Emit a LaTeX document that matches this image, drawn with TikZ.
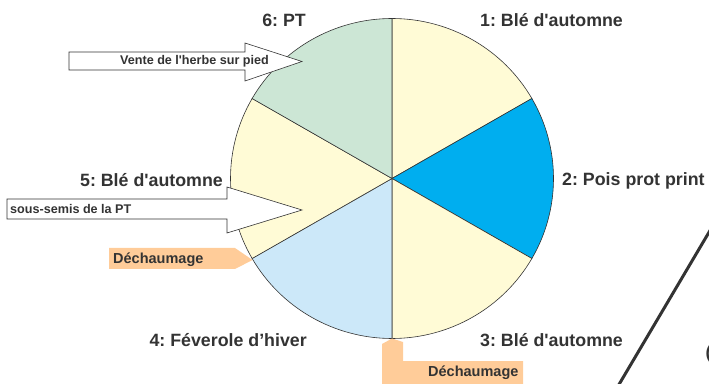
\documentclass[tikz,border=0pt]{standalone}
\usepackage{fontspec}
\setmainfont{Liberation Sans}
\frenchspacing

\definecolor{txtgray}{HTML}{333333}
\definecolor{wheatyellow}{HTML}{FFFBD6}
\definecolor{peablue}{HTML}{00AEEF}
\definecolor{beanblue}{HTML}{CCE8F9}
\definecolor{grassgreen}{HTML}{CCE6D5}
\definecolor{stubbleorange}{HTML}{FFCC99}
\newcommand{\sq}{\textquotesingle}

\begin{document}
\begin{tikzpicture}[x=1pt,y=1pt,
    cropname/.style={font=\fontsize{17.8}{20}\selectfont\bfseries, text=txtgray, inner sep=0pt},
    notetext/.style={font=\fontsize{12.6}{14}\selectfont\bfseries, text=txtgray, inner sep=0pt},
    worktext/.style={font=\fontsize{14.5}{16}\selectfont\bfseries, text=txtgray, inner sep=0pt},
    sector/.style={draw=txtgray, line width=0.6pt},
    notearrow/.style={fill=white, draw=txtgray, line width=0.6pt}]
    \useasboundingbox (0,0) rectangle (709,383);

    \begin{scope}[shift={(392,204.5)}]
        % rotation pie, six years
        \filldraw[sector, fill=wheatyellow] (0,0) -- (30:161.5 and 160) arc[start angle=30, end angle=90, x radius=161.5, y radius=160] -- cycle;
        \filldraw[sector, fill=peablue] (0,0) -- (-30:161.5 and 160) arc[start angle=-30, end angle=30, x radius=161.5, y radius=160] -- cycle;
        \filldraw[sector, fill=wheatyellow] (0,0) -- (-90:161.5 and 160) arc[start angle=-90, end angle=-30, x radius=161.5, y radius=160] -- cycle;
        \filldraw[sector, fill=beanblue] (0,0) -- (-150:161.5 and 160) arc[start angle=-150, end angle=-90, x radius=161.5, y radius=160] -- cycle;
        \filldraw[sector, fill=wheatyellow] (0,0) -- (150:161.5 and 160) arc[start angle=150, end angle=210, x radius=161.5, y radius=160] -- cycle;
        \filldraw[sector, fill=grassgreen] (0,0) -- (90:161.5 and 160) arc[start angle=90, end angle=150, x radius=161.5, y radius=160] -- cycle;
    \end{scope}

    % year labels
    \node[cropname, anchor=base west] (year1) at (480,356) {1: Blé d\sq automne};
    \node[cropname, anchor=base west] (year2) at (562,197.3) {2: Pois prot print};
    \node[cropname, anchor=base west] (year3) at (480,37) {3: Blé d\sq automne};
    \node[cropname, anchor=base east] (year4) at (307,37) {4: Féverole d’hiver};
    \node[cropname, anchor=base east] (year5) at (223,196.3) {5: Blé d\sq automne};
    \node[cropname, anchor=base east] (year6) at (306,356) {6: PT};

    % arrows pointing into the pie
    \filldraw[notearrow] (69,331) -- (245,331) -- (245,340) -- (302,321.5) -- (245,302) -- (245,313) -- (69,313) -- cycle;
    \node[notetext, anchor=base] (sale) at (194.5,318) {Vente de l\sq herbe sur pied};

    \filldraw[notearrow] (7,184) -- (227,184) -- (227,196) -- (302,173) -- (227,150) -- (227,164) -- (7,164) -- cycle;
    \node[notetext, anchor=base west] (undersow) at (10,169.7) {sous-semis de la PT};

    % stubble work tags
    \fill[stubbleorange] (109,135) -- (235,135) -- (252.5,123) -- (235,114) -- (109,114) -- cycle;
    \node[worktext, anchor=base west] (stubble1) at (113,119) {Déchaumage};

    \fill[stubbleorange] (382,-2) -- (382,39) -- (392,44.5) -- (403,41) -- (403,22) -- (523,22) -- (523,-2) -- cycle;
    \node[worktext, anchor=base west] (stubble2) at (428,6.3) {Déchaumage};

    % cut-off part at the right edge
    \coordinate (slashtop) at (718,166);
    \coordinate (slashbot) at (611,-15);
    \draw[txtgray, line width=3pt] (slashtop) -- (slashbot);
    \node[cropname, anchor=west] (cutoff) at (705.5,29) {(};
\end{tikzpicture}
\end{document}
